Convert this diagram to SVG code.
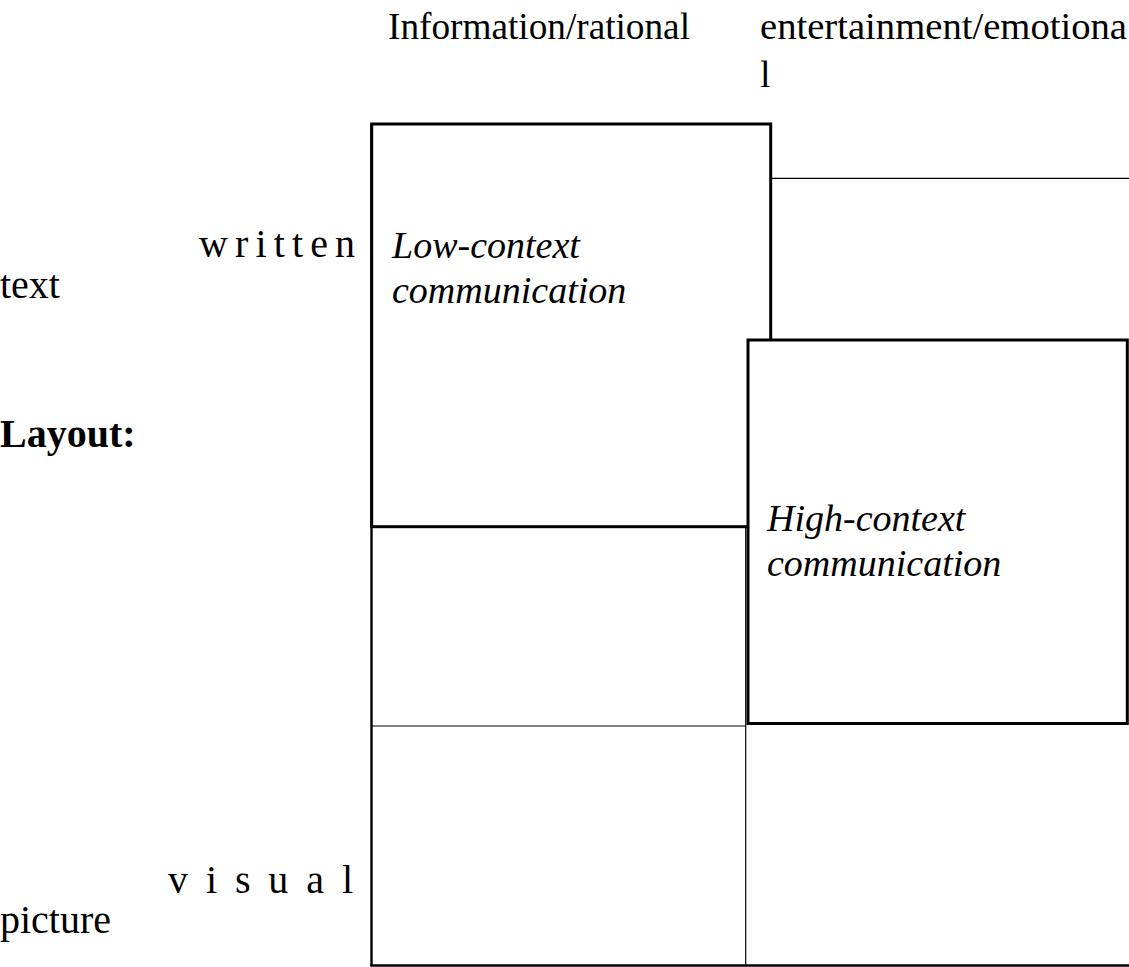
<svg xmlns="http://www.w3.org/2000/svg" width="1129" height="967" viewBox="0 0 1129 967">
<style>
.t{font-family:"Liberation Serif","Times New Roman",serif;font-size:38px;fill:#000}
.s{font-size:40px}
.i{font-style:italic}
.b{font-weight:bold}
.thick{fill:#fff;stroke:#000;stroke-width:3}
.thin{stroke:#000;stroke-width:1.2;fill:none}
.edge{stroke:#000;stroke-width:2.4;fill:none}
</style>
<rect width="1129" height="967" fill="#fff"/>
<g id="labels">
<text class="t" x="388" y="39" textLength="302" lengthAdjust="spacingAndGlyphs">Information/rational</text>
<text class="t" x="760" y="39" textLength="367" lengthAdjust="spacingAndGlyphs">entertainment/emotiona</text>
<text class="t" x="760" y="87">l</text>
<text class="t s" x="199" y="257" textLength="156" lengthAdjust="spacing">w r i t t e n</text>
<text class="t s" x="0" y="298">text</text>
<text class="t s b" x="0" y="447">Layout:</text>
<text class="t s" x="168" y="893" textLength="185" lengthAdjust="spacing">v i s u a l</text>
<text class="t s" x="0" y="933">picture</text>
</g>
<g id="grid">
<line class="edge" x1="371.5" y1="124" x2="371.5" y2="966"/>
<line class="edge" x1="370.3" y1="965.5" x2="1129" y2="965.5"/>
<line class="thin" x1="745.7" y1="527" x2="745.7" y2="966"/>
<line class="thin" x1="372" y1="726" x2="746" y2="726"/>
<line class="thin" x1="771" y1="178.3" x2="1129" y2="178.3"/>
</g>
<g id="low-context">
<rect class="thick" x="371.7" y="124" width="399" height="402.7"/>
<text class="t i" x="392" y="258">Low-context</text>
<text class="t i" x="392" y="303">communication</text>
</g>
<g id="high-context">
<rect class="thick" x="748" y="340" width="379.3" height="383.5"/>
<text class="t i" x="767" y="531">High-context</text>
<text class="t i" x="767" y="576">communication</text>
</g>
</svg>
